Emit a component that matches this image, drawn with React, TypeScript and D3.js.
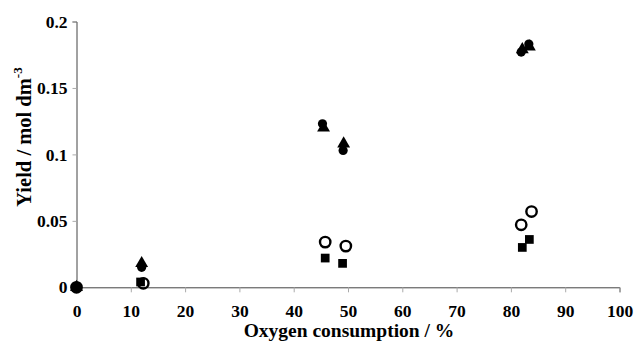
import { useEffect, useRef } from "react";
import * as d3 from "d3";

// x = oxygen consumption (%), y = yield (mol dm-3)
const circleX = [0, 12, 45.3, 49.1, 81.9, 83.3];
const circleY = [0, 0.015, 0.123, 0.103, 0.177, 0.183];
const triangleX = [0, 12, 45.5, 49.2, 82.1, 83.4];
const triangleY = [0, 0.018, 0.12, 0.108, 0.179, 0.181];
const openX = [0, 12.3, 45.8, 49.6, 81.9, 83.8];
const openY = [0, 0.003, 0.034, 0.031, 0.047, 0.057];
const squareX = [0, 11.8, 45.8, 49.0, 82.1, 83.4];
const squareY = [0, 0.004, 0.022, 0.018, 0.03, 0.036];

const xTicks = [0, 10, 20, 30, 40, 50, 60, 70, 80, 90, 100];
const yTicks = [0, 0.05, 0.1, 0.15, 0.2];

const FONT = "Times New Roman, Liberation Serif, Tinos, Times, serif";

export default function App ()
{
    const svgRef = useRef<SVGSVGElement>( null );

    useEffect( () =>
    {
        if ( !svgRef.current ) return;
        const svg = d3.select( svgRef.current );
        svg.selectAll( "*" ).remove();

        const x = d3.scaleLinear().domain( [ 0, 100 ] ).range( [ 76.5, 619.5 ] );
        const y = d3.scaleLinear().domain( [ 0, 0.2 ] ).range( [ 287.3, 21.5 ] );

        // axes
        const xa = svg.append( "g" ).attr( "transform", `translate(0,${ y( 0 ) })` )
            .call( d3.axisBottom( x ).tickValues( xTicks ).tickSize( 5 ).tickPadding( 12.5 ).tickFormat( ( d ) => String( d ) ) );
        xa.select( ".domain" ).attr( "stroke", "#444" ).attr( "stroke-width", 1 );
        xa.selectAll( ".tick line" ).attr( "stroke", "#aaa" );
        xa.selectAll( "text" ).attr( "fill", "#000" ).style( "font-family", FONT ).style( "font-size", "17.5px" ).style( "font-weight", "700" );

        const ya = svg.append( "g" ).attr( "transform", `translate(${ x( 0 ) },0)` )
            .call( d3.axisLeft( y ).tickValues( yTicks ).tickSize( 4 ).tickPadding( 5 ).tickFormat( ( d ) => String( d ) ) );
        ya.select( ".domain" ).attr( "stroke", "#444" ).attr( "stroke-width", 1 );
        ya.selectAll( ".tick line" ).attr( "stroke", "#aaa" );
        ya.selectAll( "text" ).attr( "fill", "#000" ).style( "font-family", FONT ).style( "font-size", "17.5px" ).style( "font-weight", "700" );

        // titles
        svg.append( "text" ).attr( "x", 349 ).attr( "y", 337 ).attr( "text-anchor", "middle" )
            .style( "font-family", FONT ).style( "font-size", "19.5px" ).style( "font-weight", "700" )
            .text( "Oxygen consumption / %" );

        const yt = svg.append( "text" ).attr( "transform", "translate(31,137) rotate(-90)" ).attr( "text-anchor", "middle" )
            .style( "font-family", FONT ).style( "font-size", "20.5px" ).style( "font-weight", "700" );
        yt.append( "tspan" ).text( "Yield / mol dm" );
        yt.append( "tspan" ).attr( "dy", -9 ).style( "font-size", "13px" ).text( "-3" );

        const g = svg.append( "g" );

        // filled squares
        g.selectAll( ".sq" ).data( squareX ).join( "path" ).attr( "class", "sq" )
            .attr( "d", d3.symbol( d3.symbolSquare, 76 )() as string )
            .attr( "transform", ( d, i ) => `translate(${ x( d ) },${ y( squareY[ i ] ) })` )
            .attr( "fill", "#000" );

        // open circles
        g.selectAll( ".oc" ).data( openX ).join( "circle" ).attr( "class", "oc" )
            .attr( "cx", ( d ) => x( d ) ).attr( "cy", ( d, i ) => y( openY[ i ] ) ).attr( "r", 5.2 )
            .attr( "fill", "none" ).attr( "stroke", "#000" ).attr( "stroke-width", 2.4 );

        // filled triangles
        g.selectAll( ".tr" ).data( triangleX ).join( "path" ).attr( "class", "tr" )
            .attr( "d", d3.symbol( d3.symbolTriangle, 72 )() as string )
            .attr( "transform", ( d, i ) => `translate(${ x( d ) },${ y( triangleY[ i ] ) })` )
            .attr( "fill", "#000" );

        // filled circles
        g.selectAll( ".fc" ).data( circleX ).join( "circle" ).attr( "class", "fc" )
            .attr( "cx", ( d ) => x( d ) ).attr( "cy", ( d, i ) => y( circleY[ i ] ) ).attr( "r", 4.6 )
            .attr( "fill", "#000" );
    }, [] );

    return (
        <svg ref={ svgRef } width={ 638 } height={ 342 }
            style={ { position: "absolute", left: 0, top: 0, background: "#fff" } } />
    );
}
